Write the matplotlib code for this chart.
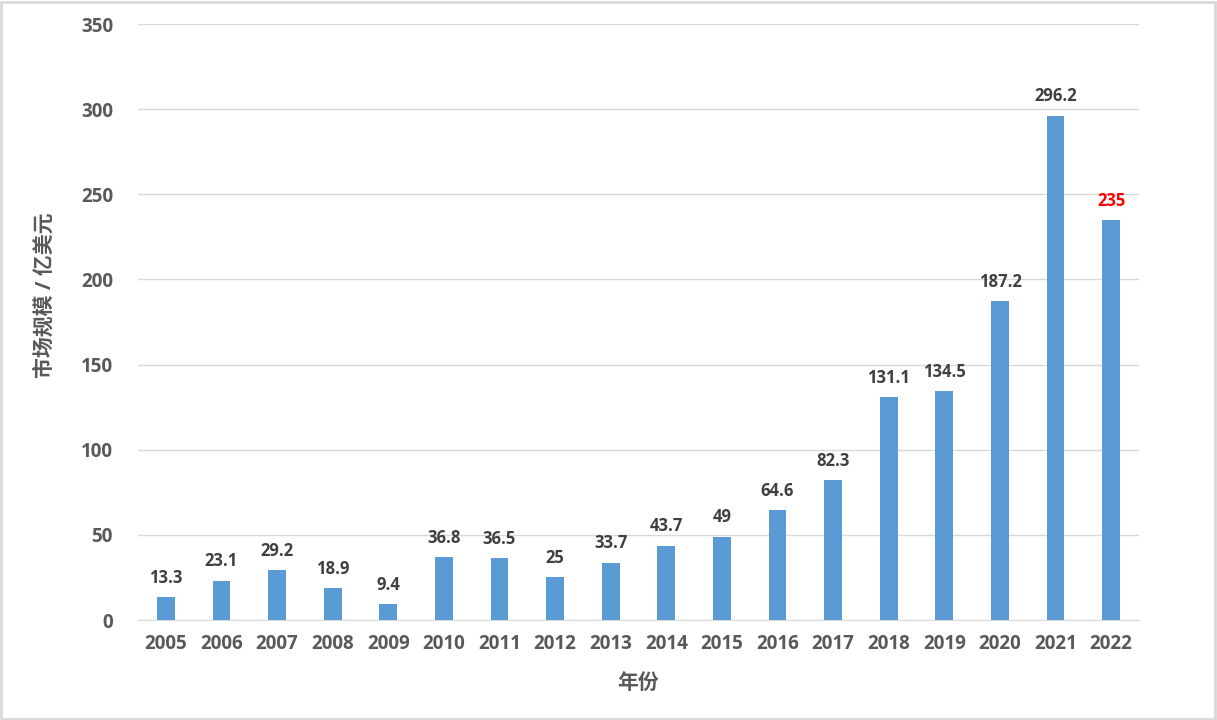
import matplotlib.pyplot as plt
from matplotlib.patches import Rectangle

plt.rcParams['font.family'] = ['Open Sans', 'Noto Sans CJK SC', 'DejaVu Sans']

# === Dati ===
years = ['2005', '2006', '2007', '2008', '2009', '2010', '2011', '2012', '2013',
         '2014', '2015', '2016', '2017', '2018', '2019', '2020', '2021', '2022']
values = [13.3, 23.1, 29.2, 18.9, 9.4, 36.8, 36.5, 25, 33.7,
          43.7, 49, 64.6, 82.3, 131.1, 134.5, 187.2, 296.2, 235]
value_labels = ['13.3', '23.1', '29.2', '18.9', '9.4', '36.8', '36.5', '25', '33.7',
                '43.7', '49', '64.6', '82.3', '131.1', '134.5', '187.2', '296.2', '235']
yticks = [0, 50, 100, 150, 200, 250, 300, 350]

fig = plt.figure(figsize=(12.17, 7.2), dpi=100)
ax = fig.add_axes([138 / 1217, 1 - 620 / 720, 1001 / 1217, 596 / 720])

x = range(len(years))
ax.bar(x, values, width=0.32, color='#5B9BD5', zorder=3)

for i, (v, lab) in enumerate(zip(values, value_labels)):
    col = 'red' if i == len(values) - 1 else '#404040'
    ax.text(i, v + 6, lab, ha='center', va='bottom', fontsize=12,
            fontweight='bold', color=col)

ax.set_xlim(-0.5, len(years) - 0.5)
ax.set_ylim(0, 350)
ax.set_yticks(yticks)
ax.set_xticks(list(x))
ax.set_xticklabels(years)
ax.grid(axis='y', color='#D9D9D9', linewidth=1, zorder=0)
for s in ['top', 'right', 'left']:
    ax.spines[s].set_visible(False)
ax.spines['bottom'].set_color('#D9D9D9')
ax.tick_params(axis='both', length=0, labelsize=13.5, labelcolor='#595959')
ax.tick_params(axis='y', pad=18)
ax.tick_params(axis='x', pad=10)
for t in ax.get_xticklabels() + ax.get_yticklabels():
    t.set_fontweight('bold')

ax.set_xlabel('年份', fontsize=15, fontweight='bold', color='#595959', labelpad=14)
ax.set_ylabel('市场规模 / 亿美元', fontsize=15, fontweight='bold', color='#595959')
ax.yaxis.set_label_coords(-0.082, 0.545)

# === Cornice ===
fig.patches.append(Rectangle((0.001, 0.002), 0.997, 0.995, transform=fig.transFigure,
                             fill=False, edgecolor='#D9D9D9', linewidth=2))

fig.savefig('out.png', dpi=100)
